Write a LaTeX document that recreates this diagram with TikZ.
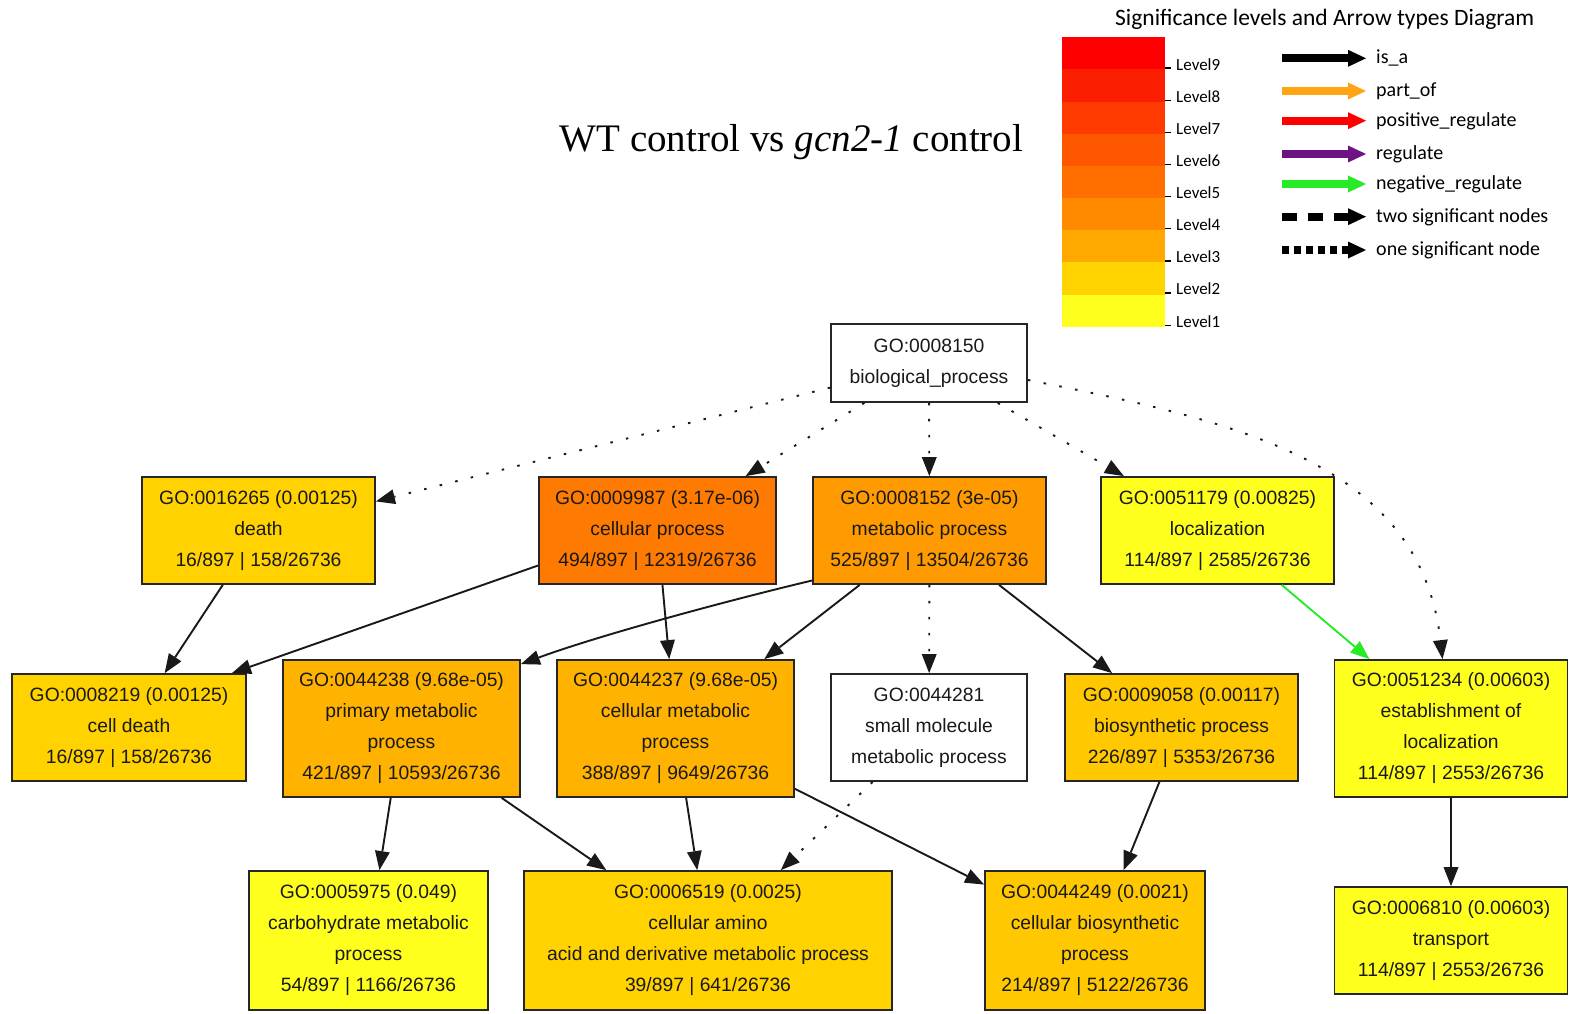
\documentclass[tikz,border=0pt]{standalone}
\usepackage{fontspec}
\usetikzlibrary{arrows.meta}
\newfontfamily\nodefont{Liberation Sans}
\newfontfamily\titlefont{Liberation Serif}
\newfontfamily\legendfont{Carlito}

% significance level colours (1 = weakest, 9 = strongest)
\definecolor{lvA}{RGB}{255,255,30}
\definecolor{lvB}{RGB}{255,212,0}
\definecolor{lvC}{RGB}{255,168,0}
\definecolor{lvD}{RGB}{255,138,0}
\definecolor{lvE}{RGB}{255,111,0}
\definecolor{lvF}{RGB}{255,86,0}
\definecolor{lvG}{RGB}{255,58,0}
\definecolor{lvH}{RGB}{252,30,0}
\definecolor{lvI}{RGB}{255,0,0}
% node fills
\definecolor{fillcell}{RGB}{255,122,0}
\definecolor{fillmeta}{RGB}{255,154,0}
\definecolor{fillprim}{RGB}{255,179,0}
\definecolor{fillbio}{RGB}{255,200,0}
\definecolor{fillgold}{RGB}{255,210,0}
\definecolor{fillyel}{RGB}{255,255,30}
% relation colours
\definecolor{partof}{RGB}{255,165,20}
\definecolor{posreg}{RGB}{255,0,0}
\definecolor{reg}{RGB}{110,20,130}
\definecolor{negreg}{RGB}{40,235,40}

\begin{document}
\begin{tikzpicture}[x=1pt,y=-1pt,
  gobox/.style={draw=black!85, line width=1.8pt, inner sep=0pt, align=center,
    font=\nodefont\fontsize{19.3}{31}\selectfont, text=black!90},
  short/.style={gobox, minimum height=107pt},
  tall/.style={gobox, minimum height=137pt},
  bottom/.style={gobox, minimum height=139pt},
  edge/.style={line width=1.9pt, draw=black!90,
    -{Triangle[length=19pt,width=15pt,line width=0pt]}},
  onesig/.style={edge, dash pattern=on 2.5pt off 13.5pt},
  negedge/.style={edge, draw=negreg},
  legarrow/.style={line width=8pt,
    -{Triangle[length=18pt,width=17pt,line width=0pt]}},
  legtext/.style={anchor=base west, inner sep=0pt,
    font=\legendfont\fontsize{20}{24}\selectfont},
  lvtext/.style={anchor=base west, inner sep=0pt,
    font=\legendfont\fontsize{17}{20}\selectfont}
]
\fill[white] (0,0) rectangle (1572,1014);
\useasboundingbox (0,0) rectangle (1572,1014);

% ---------- title ----------
\node[anchor=base, inner sep=0pt, font=\titlefont\fontsize{39}{44}\selectfont]
  (title) at (791.5,152) {WT control vs \textit{gcn2-1} control};

% ---------- legend: significance levels ----------
\node[anchor=base west, inner sep=0pt, font=\legendfont\fontsize{23.5}{28}\selectfont]
  (legtitle) at (1115,26) {Significance levels and Arrow types Diagram};
\foreach \c [count=\i from 0] in {lvA,lvB,lvC,lvD,lvE,lvF,lvG,lvH,lvI} {
  \fill[\c] (1062,{326.7-\i*32.16}) rectangle (1165,{326.7-(\i+1)*32.16});
  \draw[line width=1.3pt] (1165,{325.3-\i*32.16}) -- (1171,{325.3-\i*32.16});
  \pgfmathtruncatemacro{\k}{\i+1}
  \node[lvtext] (level\k) at (1176,{327-\i*32.1}) {Level\k};
}

% ---------- legend: arrow types ----------
\draw[legarrow, black]  (1282,58.3) -- (1366,58.3);
\draw[legarrow, partof] (1282,91)   -- (1366,91);
\draw[legarrow, posreg] (1282,120.7) -- (1366,120.7);
\draw[legarrow, reg]    (1282,154)  -- (1366,154);
\draw[legarrow, negreg] (1282,184)  -- (1366,184);
\draw[legarrow, black, dash pattern=on 15pt off 11pt] (1282,216.7) -- (1366,216.7);
\draw[legarrow, black, dash pattern=on 7pt off 5pt]   (1282,250)   -- (1366,250);
\node[legtext] (tisa) at (1376,64)  {is\_a};
\node[legtext] (tpart) at (1376,96.5) {part\_of};
\node[legtext] (tpos) at (1376,126.5) {positive\_regulate};
\node[legtext] (treg) at (1376,159.5) {regulate};
\node[legtext] (tneg) at (1376,189.5) {negative\_regulate};
\node[legtext] (ttwo) at (1376,222.5) {two significant nodes};
\node[legtext] (tone) at (1376,255.5) {one significant node};

% ---------- GO graph ----------
\node[gobox, fill=white, minimum width=196pt, minimum height=78pt]
  (root) at (929,363) {GO:0008150\\biological\_process};

\node[short, fill=fillgold, minimum width=233pt] (death) at (258.5,530.5)
  {GO:0016265 (0.00125)\\death\\16/897 | 158/26736};
\node[short, fill=fillcell, minimum width=237pt] (cellproc) at (657.5,530.5)
  {GO:0009987 (3.17e-06)\\cellular process\\494/897 | 12319/26736};
\node[short, fill=fillmeta, minimum width=233pt] (metab) at (929.5,530.5)
  {GO:0008152 (3e-05)\\metabolic process\\525/897 | 13504/26736};
\node[short, fill=fillyel, minimum width=233pt] (local) at (1217.5,530.5)
  {GO:0051179 (0.00825)\\localization\\114/897 | 2585/26736};

\node[short, fill=fillgold, minimum width=234pt] (celldeath) at (129,727.5)
  {GO:0008219 (0.00125)\\cell death\\16/897 | 158/26736};
\node[tall, fill=fillprim, minimum width=237pt] (primary) at (401.5,728.5)
  {GO:0044238 (9.68e-05)\\primary metabolic\\process\\421/897 | 10593/26736};
\node[tall, fill=fillprim, minimum width=237pt] (cellmet) at (675.5,728.5)
  {GO:0044237 (9.68e-05)\\cellular metabolic\\process\\388/897 | 9649/26736};
\node[short, fill=white, minimum width=196pt] (smallmol) at (929,727.5)
  {GO:0044281\\small molecule\\metabolic process};
\node[short, fill=fillbio, minimum width=233pt] (biosyn) at (1181.5,727.5)
  {GO:0009058 (0.00117)\\biosynthetic process\\226/897 | 5353/26736};
\node[tall, fill=fillyel, minimum width=233pt] (establish) at (1451,728.5)
  {GO:0051234 (0.00603)\\establishment of\\localization\\114/897 | 2553/26736};

\node[bottom, fill=fillyel, minimum width=239pt] (carbo) at (368.5,940.5)
  {GO:0005975 (0.049)\\carbohydrate metabolic\\process\\54/897 | 1166/26736};
\node[bottom, fill=fillgold, minimum width=368pt] (amino) at (708,940.5)
  {GO:0006519 (0.0025)\\cellular amino\\acid and derivative metabolic process\\39/897 | 641/26736};
\node[bottom, fill=fillbio, minimum width=220pt] (cellbio) at (1095,940.5)
  {GO:0044249 (0.0021)\\cellular biosynthetic\\process\\214/897 | 5122/26736};
\node[short, fill=fillyel, minimum width=233pt] (transport) at (1451,940.5)
  {GO:0006810 (0.00603)\\transport\\114/897 | 2553/26736};

% edges from the root (one significant node)
\draw[onesig] (root) -- (death);
\draw[onesig] (root) -- (cellproc);
\draw[onesig] (root) -- (metab);
\draw[onesig] (root) -- (local);
\draw[onesig] ([yshift=-17pt]root.east) .. controls (1230,420) and (1420,460) ..
  ([xshift=-8.5pt]establish.north);

% second row to third row
\draw[edge] (death) -- (celldeath);
\draw[edge] ([yshift=-35pt]cellproc.west) -- ([xshift=103pt]celldeath.north);
\draw[edge] (cellproc) -- (cellmet);
\draw[edge] ([yshift=-50pt]metab.west) .. controls (730,600) and (600,635) ..
  ([yshift=-5pt]primary.north east);
\draw[edge] (metab) -- (cellmet);
\draw[onesig] (metab) -- (smallmol);
\draw[edge] (metab) -- (biosyn);
\draw[negedge] (local) -- (establish);

% third row to bottom row
\draw[edge] (primary) -- (carbo);
\draw[edge] (primary) -- (amino);
\draw[edge] (cellmet) -- (amino);
\draw[onesig] (smallmol) -- (amino);
\draw[edge] (cellmet) -- (cellbio);
\draw[edge] (biosyn) -- (cellbio);
\draw[edge] (establish) -- (transport);
\end{tikzpicture}
\end{document}
